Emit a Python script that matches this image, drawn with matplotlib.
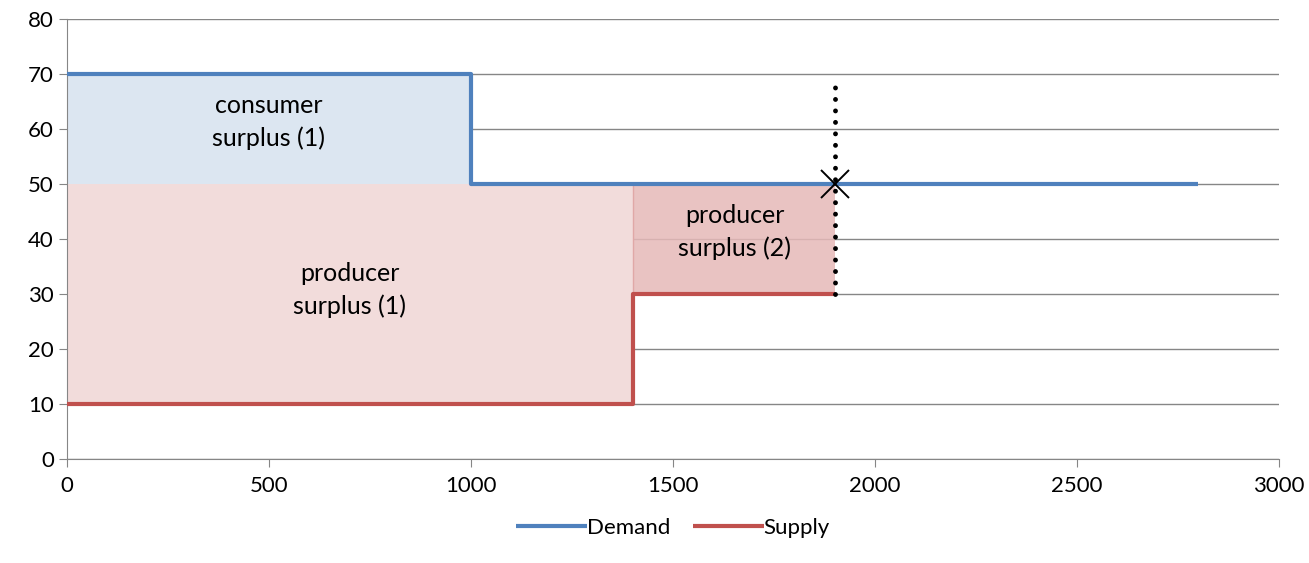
import matplotlib.pyplot as plt

plt.rcParams['font.family'] = ['Lato', 'DejaVu Sans']

demand_x = [0, 1000, 1000, 2800]
demand_y = [70, 70, 50, 50]
supply_x = [0, 1400, 1400, 1900]
supply_y = [10, 10, 30, 30]

cs_x = [0, 1000]
cs_lo, cs_hi = 50, 70
ps1_x = [0, 1400]
ps1_lo, ps1_hi = 10, 50
ps2_x = [1400, 1900]
ps2_lo, ps2_hi = 30, 50

eq_x, eq_y = 1900, 50
dot_x = 1900
dot_y = [30, 69]

blue = '#4f81bd'
red = '#c0504d'

fig = plt.figure(figsize=(13.09, 5.63), dpi=100)
ax = fig.add_axes([0.0512, 0.1847, 0.9258, 0.7816])

ax.fill_between(cs_x, cs_lo, cs_hi, color='#dce6f1', lw=0, zorder=1)
ax.fill_between(ps1_x, ps1_lo, ps1_hi, color='#f2dcdb', lw=0, zorder=1)
ax.fill_between(ps2_x, ps2_lo, ps2_hi, color='#e6b9b8', alpha=0.85, lw=0, zorder=1)
ax.plot([ps2_x[0], ps2_x[0]], [ps2_lo, ps2_hi], color='#e0a8a7', lw=1, zorder=1)

ax.plot(demand_x, demand_y, color=blue, lw=3, label='Demand', zorder=3, solid_capstyle='butt')
ax.plot(supply_x, supply_y, color=red, lw=3, label='Supply', zorder=3, solid_capstyle='butt')

# dotted vertical at the equilibrium quantity
ax.plot([dot_x, dot_x], dot_y, color='black', lw=3.5, ls=(0, (0.01, 2.35)),
        dash_capstyle='round', zorder=4)
ax.plot([eq_x], [eq_y], marker='x', ms=20, mew=1.4, color='black', zorder=5)

ax.text(500, 61.3, 'consumer\nsurplus (1)', ha='center', va='center', fontsize=18, linespacing=1.5)
ax.text(700, 30.7, 'producer\nsurplus (1)', ha='center', va='center', fontsize=18, linespacing=1.5)
ax.text(1653, 41.3, 'producer\nsurplus (2)', ha='center', va='center', fontsize=18, linespacing=1.5)

ax.set_xlim(0, 3000)
ax.set_ylim(0, 80)
ax.set_xticks(range(0, 3001, 500))
ax.set_yticks(range(0, 81, 10))
ax.grid(axis='y', color='#868686', lw=1)
ax.set_axisbelow(True)
for s in ['top', 'right']:
    ax.spines[s].set_visible(False)
for s in ['left', 'bottom']:
    ax.spines[s].set_color('#868686')
ax.tick_params(colors='#868686', labelcolor='black', labelsize=16, length=6, direction='out')
ax.tick_params(axis='x', pad=6)

ax.legend(loc='upper center', bbox_to_anchor=(0.5, -0.088), ncol=2, frameon=False,
          fontsize=16, handlelength=3.2, columnspacing=1.0, handletextpad=0.0)

fig.savefig('out.png', dpi=100)
